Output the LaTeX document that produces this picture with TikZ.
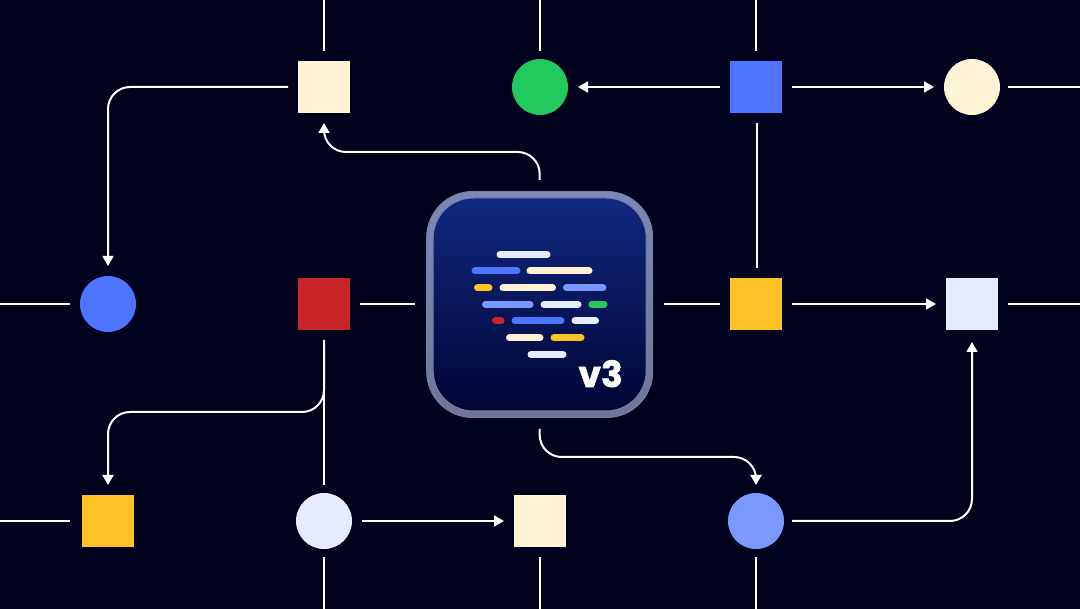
\documentclass[tikz,border=0pt]{standalone}
\usepackage{fontspec}
\setmainfont{Poppins}
\newfontfamily\versionfont[FakeBold=1.5]{Poppins}
\usetikzlibrary{arrows.meta, positioning, calc}
\definecolor{pagenavy}{RGB}{0, 2, 30}
\definecolor{nodeblue}{RGB}{77, 117, 255}
\definecolor{nodecream}{RGB}{255, 243, 214}
\definecolor{nodegreen}{RGB}{34, 201, 92}
\definecolor{nodeyellow}{RGB}{255, 194, 38}
\definecolor{nodered}{RGB}{201, 36, 40}
\definecolor{nodepale}{RGB}{230, 236, 255}
\definecolor{nodeperi}{RGB}{122, 152, 255}
\definecolor{frametop}{RGB}{124, 136, 184}
\definecolor{framemid}{RGB}{118, 126, 166}
\definecolor{framebottom}{RGB}{112, 117, 150}
\definecolor{apptop}{RGB}{16, 40, 128}
\definecolor{appbottom}{RGB}{2, 5, 52}

\begin{document}
\begin{tikzpicture}[
    x=1pt, y=-1pt,
    squarenode/.style={
        rectangle,
        minimum size=52pt,
        inner sep=0pt,
        outer sep=10pt
    },
    roundnode/.style={
        circle,
        minimum size=56pt,
        inner sep=0pt,
        outer sep=8pt
    },
    link/.style={
        line width=2pt,
        draw=white
    },
    arrow/.style={
        link,
        -{Triangle[length=10pt, width=11pt]}
    },
    roundbend/.style={
        rounded corners=22pt
    }
]

\fill [pagenavy] (0,0) rectangle (1080,609);
\useasboundingbox (0,0) rectangle (1080,609);

% ==================== TOP ROW ====================
\node (cream_sq) [squarenode, fill=nodecream] at (324, 87) {};
\node (green_dot) [roundnode, fill=nodegreen] at (540, 87) {};
\node (blue_sq) [squarenode, fill=nodeblue] at (756, 87) {};
\node (cream_dot) [roundnode, fill=nodecream] at (972, 87) {};

% ==================== MIDDLE ROW ====================
\node (blue_dot) [roundnode, fill=nodeblue] at (108, 304) {};
\node (red_sq) [squarenode, fill=nodered] at (324, 304) {};
\node (yellow_sq) [squarenode, fill=nodeyellow] at (756, 304) {};
\node (pale_sq) [squarenode, fill=nodepale] at (972, 304) {};

% ==================== BOTTOM ROW ====================
\node (yellow_low) [squarenode, fill=nodeyellow] at (108, 521) {};
\node (pale_dot) [roundnode, fill=nodepale] at (324, 521) {};
\node (cream_low) [squarenode, fill=nodecream] at (540, 521) {};
\node (peri_dot) [roundnode, fill=nodeperi] at (756, 521) {};

% ==================== CENTRE: APP ICON ====================
\node (app) [
    rectangle, rounded corners=46pt, minimum width=226pt, minimum height=226pt, inner sep=0pt, outer sep=11.5pt,
    draw=framemid, line width=1pt,
    top color=frametop, bottom color=framebottom
] at (539.7, 304.5) {};
\node (app_inner) [
    rectangle, rounded corners=40pt, minimum size=213pt, inner sep=0pt,
    draw=framemid, line width=1pt,
    top color=apptop, bottom color=appbottom
] at (539.7, 304.5) {};

% code lines inside the icon
\foreach \xa/\xb/\yy/\col in {
    500/547/254.5/nodepale,
    475/517/271/nodeblue, 530/589/271/nodecream,
    477.5/489/288/nodeyellow, 503/552.5/288/nodecream, 566.5/603/288/nodeperi,
    485.5/530/304.5/nodeperi, 544/578/304.5/nodepale, 592/604/304.5/nodegreen,
    495.5/501/321/nodered, 515/561/321/nodeblue, 575/595.5/321/nodepale,
    509.5/540/338/nodecream, 554/581/338/nodeyellow,
    531/563/354.5/nodepale} {
    \draw [draw=\col, line width=7pt, line cap=round] (\xa, \yy) -- (\xb, \yy);
}

\node (version) [anchor=base east, inner sep=0pt, text=white, font=\fontsize{36}{36}\versionfont\bfseries] at (623, 387) {v3};

% ==================== FREE ENDS AT THE PAGE EDGE ====================
\coordinate (edge_top_a) at (324, 0);
\coordinate (edge_top_b) at (540, 0);
\coordinate (edge_top_c) at (756, 0);
\coordinate (edge_right_a) at (1080, 87);
\coordinate (edge_right_b) at (1080, 304);
\coordinate (edge_left_a) at (0, 304);
\coordinate (edge_left_b) at (0, 521);
\coordinate (edge_low_a) at (324, 609);
\coordinate (edge_low_b) at (540, 609);
\coordinate (edge_low_c) at (756, 609);

% ==================== CONNECTIONS & ROUTING ====================

% Page edges to top row
\draw [link] (edge_top_a) -- (cream_sq.north);
\draw [link] (edge_top_b) -- (green_dot.north);
\draw [link] (edge_top_c) -- (blue_sq.north);
\draw [link] (cream_dot.east) -- (edge_right_a);

% Top row flow
\draw [arrow, shorten >=2pt] (blue_sq.west) -- (green_dot.east);
\draw [arrow, shorten >=2pt] (blue_sq.east) -- (cream_dot.west);
\draw [arrow, roundbend, shorten >=2pt] (cream_sq.west) -| (blue_dot.north);
\draw [link] ([xshift=1pt]blue_sq.south) -- ([xshift=1pt]yellow_sq.north);

% Icon up to the cream square
\draw [arrow, roundbend] (app.north) -- ++(0,-28) -| (cream_sq.south);

% Middle row
\draw [link, shorten >=2pt] (edge_left_a) -- (blue_dot.west);
\draw [link] (red_sq.east) -- (red_sq.east -| app.west);
\draw [link] (yellow_sq.west -| app.east) -- (yellow_sq.west);
\draw [arrow] (yellow_sq.east) -- (pale_sq.west);
\draw [link] (pale_sq.east) -- (edge_right_b);

% Red square down, with its branch
\draw [link] (red_sq.south) -- (pale_dot.north);
\draw [arrow, roundbend] (red_sq.south) |- ($(red_sq.south)+(-100,72)$) -| (yellow_low.north);

% Bottom row
\draw [link, shorten >=2pt] (edge_left_b) -- (yellow_low.west);
\draw [arrow, shorten <=2pt] (pale_dot.east) -- (cream_low.west);
\draw [arrow, roundbend] (app.south) -- ++(0,28) -| (peri_dot.north);
\draw [arrow, roundbend, shorten >=2pt] (peri_dot.east) -| (pale_sq.south);

% Bottom row to page edge
\draw [link] (pale_dot.south) -- (edge_low_a);
\draw [link] (cream_low.south) -- (edge_low_b);
\draw [link] (peri_dot.south) -- (edge_low_c);

\end{tikzpicture}
\end{document}
